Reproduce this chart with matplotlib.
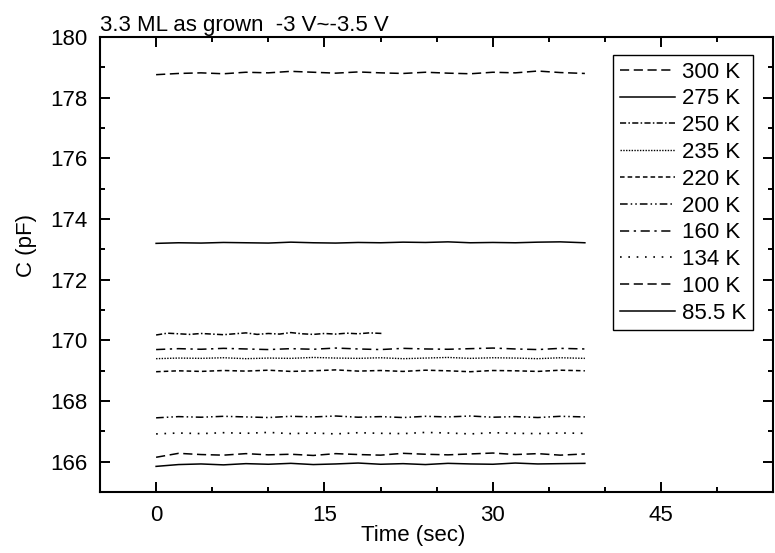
import matplotlib.pyplot as plt
import matplotlib.ticker as ticker

plt.rcParams['font.family'] = ['Liberation Sans', 'DejaVu Sans']

# time axis (sec)
t_full = [0, 2, 4, 6, 8, 10, 12, 14, 16, 18, 20, 22, 24, 26, 28, 30, 32, 34, 36, 38.2]
t_short = [0, 1, 2, 3, 4, 5, 6, 7, 8, 9, 10, 11, 12, 13, 14, 15, 16, 17, 18, 19, 20.2]

labels = ['300 K', '275 K', '250 K', '235 K', '220 K', '200 K', '160 K', '134 K', '100 K', '85.5 K']

c_300 = [178.76, 178.80, 178.82, 178.79, 178.84, 178.82, 178.87, 178.84, 178.81, 178.85,
         178.82, 178.80, 178.84, 178.81, 178.79, 178.84, 178.82, 178.88, 178.83, 178.80]
c_275 = [173.20, 173.22, 173.21, 173.23, 173.22, 173.21, 173.24, 173.22, 173.21, 173.23,
         173.22, 173.24, 173.23, 173.25, 173.22, 173.23, 173.22, 173.24, 173.25, 173.22]
c_250 = [170.18, 170.24, 170.22, 170.20, 170.23, 170.21, 170.19, 170.22, 170.25, 170.20,
         170.23, 170.21, 170.26, 170.22, 170.20, 170.23, 170.21, 170.24, 170.22, 170.25, 170.23]
c_235 = [169.40, 169.42, 169.41, 169.43, 169.40, 169.42, 169.41, 169.44, 169.42, 169.41,
         169.43, 169.40, 169.42, 169.44, 169.41, 169.43, 169.42, 169.40, 169.43, 169.41]
c_220 = [168.97, 169.00, 168.98, 169.01, 168.99, 169.02, 168.98, 169.00, 169.03, 168.99,
         169.01, 168.98, 169.02, 169.00, 168.97, 169.01, 169.00, 168.98, 169.02, 169.00]
c_200 = [167.45, 167.49, 167.47, 167.50, 167.48, 167.46, 167.50, 167.48, 167.51, 167.47,
         167.49, 167.46, 167.50, 167.48, 167.51, 167.47, 167.49, 167.46, 167.50, 167.48]
c_160 = [169.70, 169.73, 169.71, 169.74, 169.72, 169.70, 169.73, 169.71, 169.75, 169.72,
         169.70, 169.74, 169.72, 169.71, 169.73, 169.75, 169.72, 169.70, 169.74, 169.72]
c_134 = [166.92, 166.95, 166.93, 166.96, 166.94, 166.97, 166.93, 166.95, 166.92, 166.96,
         166.94, 166.93, 166.97, 166.95, 166.92, 166.96, 166.94, 166.93, 166.95, 166.94]
c_100 = [166.15, 166.28, 166.24, 166.22, 166.27, 166.23, 166.25, 166.21, 166.27, 166.24,
         166.22, 166.28, 166.25, 166.23, 166.26, 166.29, 166.24, 166.27, 166.22, 166.26]
c_85 = [165.85, 165.91, 165.93, 165.90, 165.94, 165.92, 165.95, 165.91, 165.93, 165.96,
        165.92, 165.94, 165.91, 165.95, 165.93, 165.92, 165.96, 165.93, 165.94, 165.95]

fig = plt.figure(figsize=(7.75, 5.53), dpi=100)
ax = fig.add_axes([0.129, 0.110, 0.869, 0.823])

ax.plot(t_full, c_300, color='black', lw=1.1, linestyle=(0, (6, 3)), label=labels[0])
ax.plot(t_full, c_275, color='black', lw=1.1, linestyle='-', label=labels[1])
ax.plot(t_short, c_250, color='black', lw=1.1, linestyle=(0, (4, 1.5, 1, 1.5)), label=labels[2])
ax.plot(t_full, c_235, color='black', lw=1.0, linestyle=(0, (1, 1)), label=labels[3])
ax.plot(t_full, c_220, color='black', lw=1.1, linestyle=(0, (3, 2)), label=labels[4])
ax.plot(t_full, c_200, color='black', lw=1.1, linestyle=(0, (5, 2, 1, 2, 1, 2)), label=labels[5])
ax.plot(t_full, c_160, color='black', lw=1.1, linestyle=(0, (6, 3, 1.5, 3)), label=labels[6])
ax.plot(t_full, c_134, color='black', lw=1.2, linestyle=(0, (1, 4)), label=labels[7])
ax.plot(t_full, c_100, color='black', lw=1.1, linestyle=(0, (6, 3)), label=labels[8])
ax.plot(t_full, c_85, color='black', lw=1.1, linestyle='-', label=labels[9])

ax.set_xlim(-5, 55)
ax.set_ylim(165, 180)
ax.xaxis.set_major_locator(ticker.MultipleLocator(15))
ax.xaxis.set_minor_locator(ticker.MultipleLocator(5))
ax.yaxis.set_major_locator(ticker.MultipleLocator(2))
ax.yaxis.set_minor_locator(ticker.MultipleLocator(1))
ax.tick_params(which='both', direction='in', top=True, right=True, width=1.4, labelsize=16, pad=9)
ax.tick_params(which='major', length=7)
ax.tick_params(which='minor', length=3.6)
for s in ax.spines.values():
    s.set_linewidth(1.5)

ax.set_xlabel('Time (sec)', fontsize=16)
ax.set_ylabel('C (pF)', fontsize=16)
ax.xaxis.set_label_coords(0.465, -0.073)
ax.yaxis.set_label_coords(-0.094, 0.543)
ax.set_title('3.3 ML as grown  -3 V~-3.5 V', loc='left', fontsize=16, pad=4)

leg = ax.legend(loc='upper right', bbox_to_anchor=(753 / 775, 1 - 55 / 553),
                bbox_transform=fig.transFigure, fontsize=16, frameon=True, fancybox=False,
                edgecolor='black', framealpha=1, labelspacing=0.26, handlelength=2.5,
                handletextpad=0.3, borderpad=0.3, borderaxespad=0)
leg.get_frame().set_linewidth(1.0)

plt.savefig('out.png', dpi=100)
